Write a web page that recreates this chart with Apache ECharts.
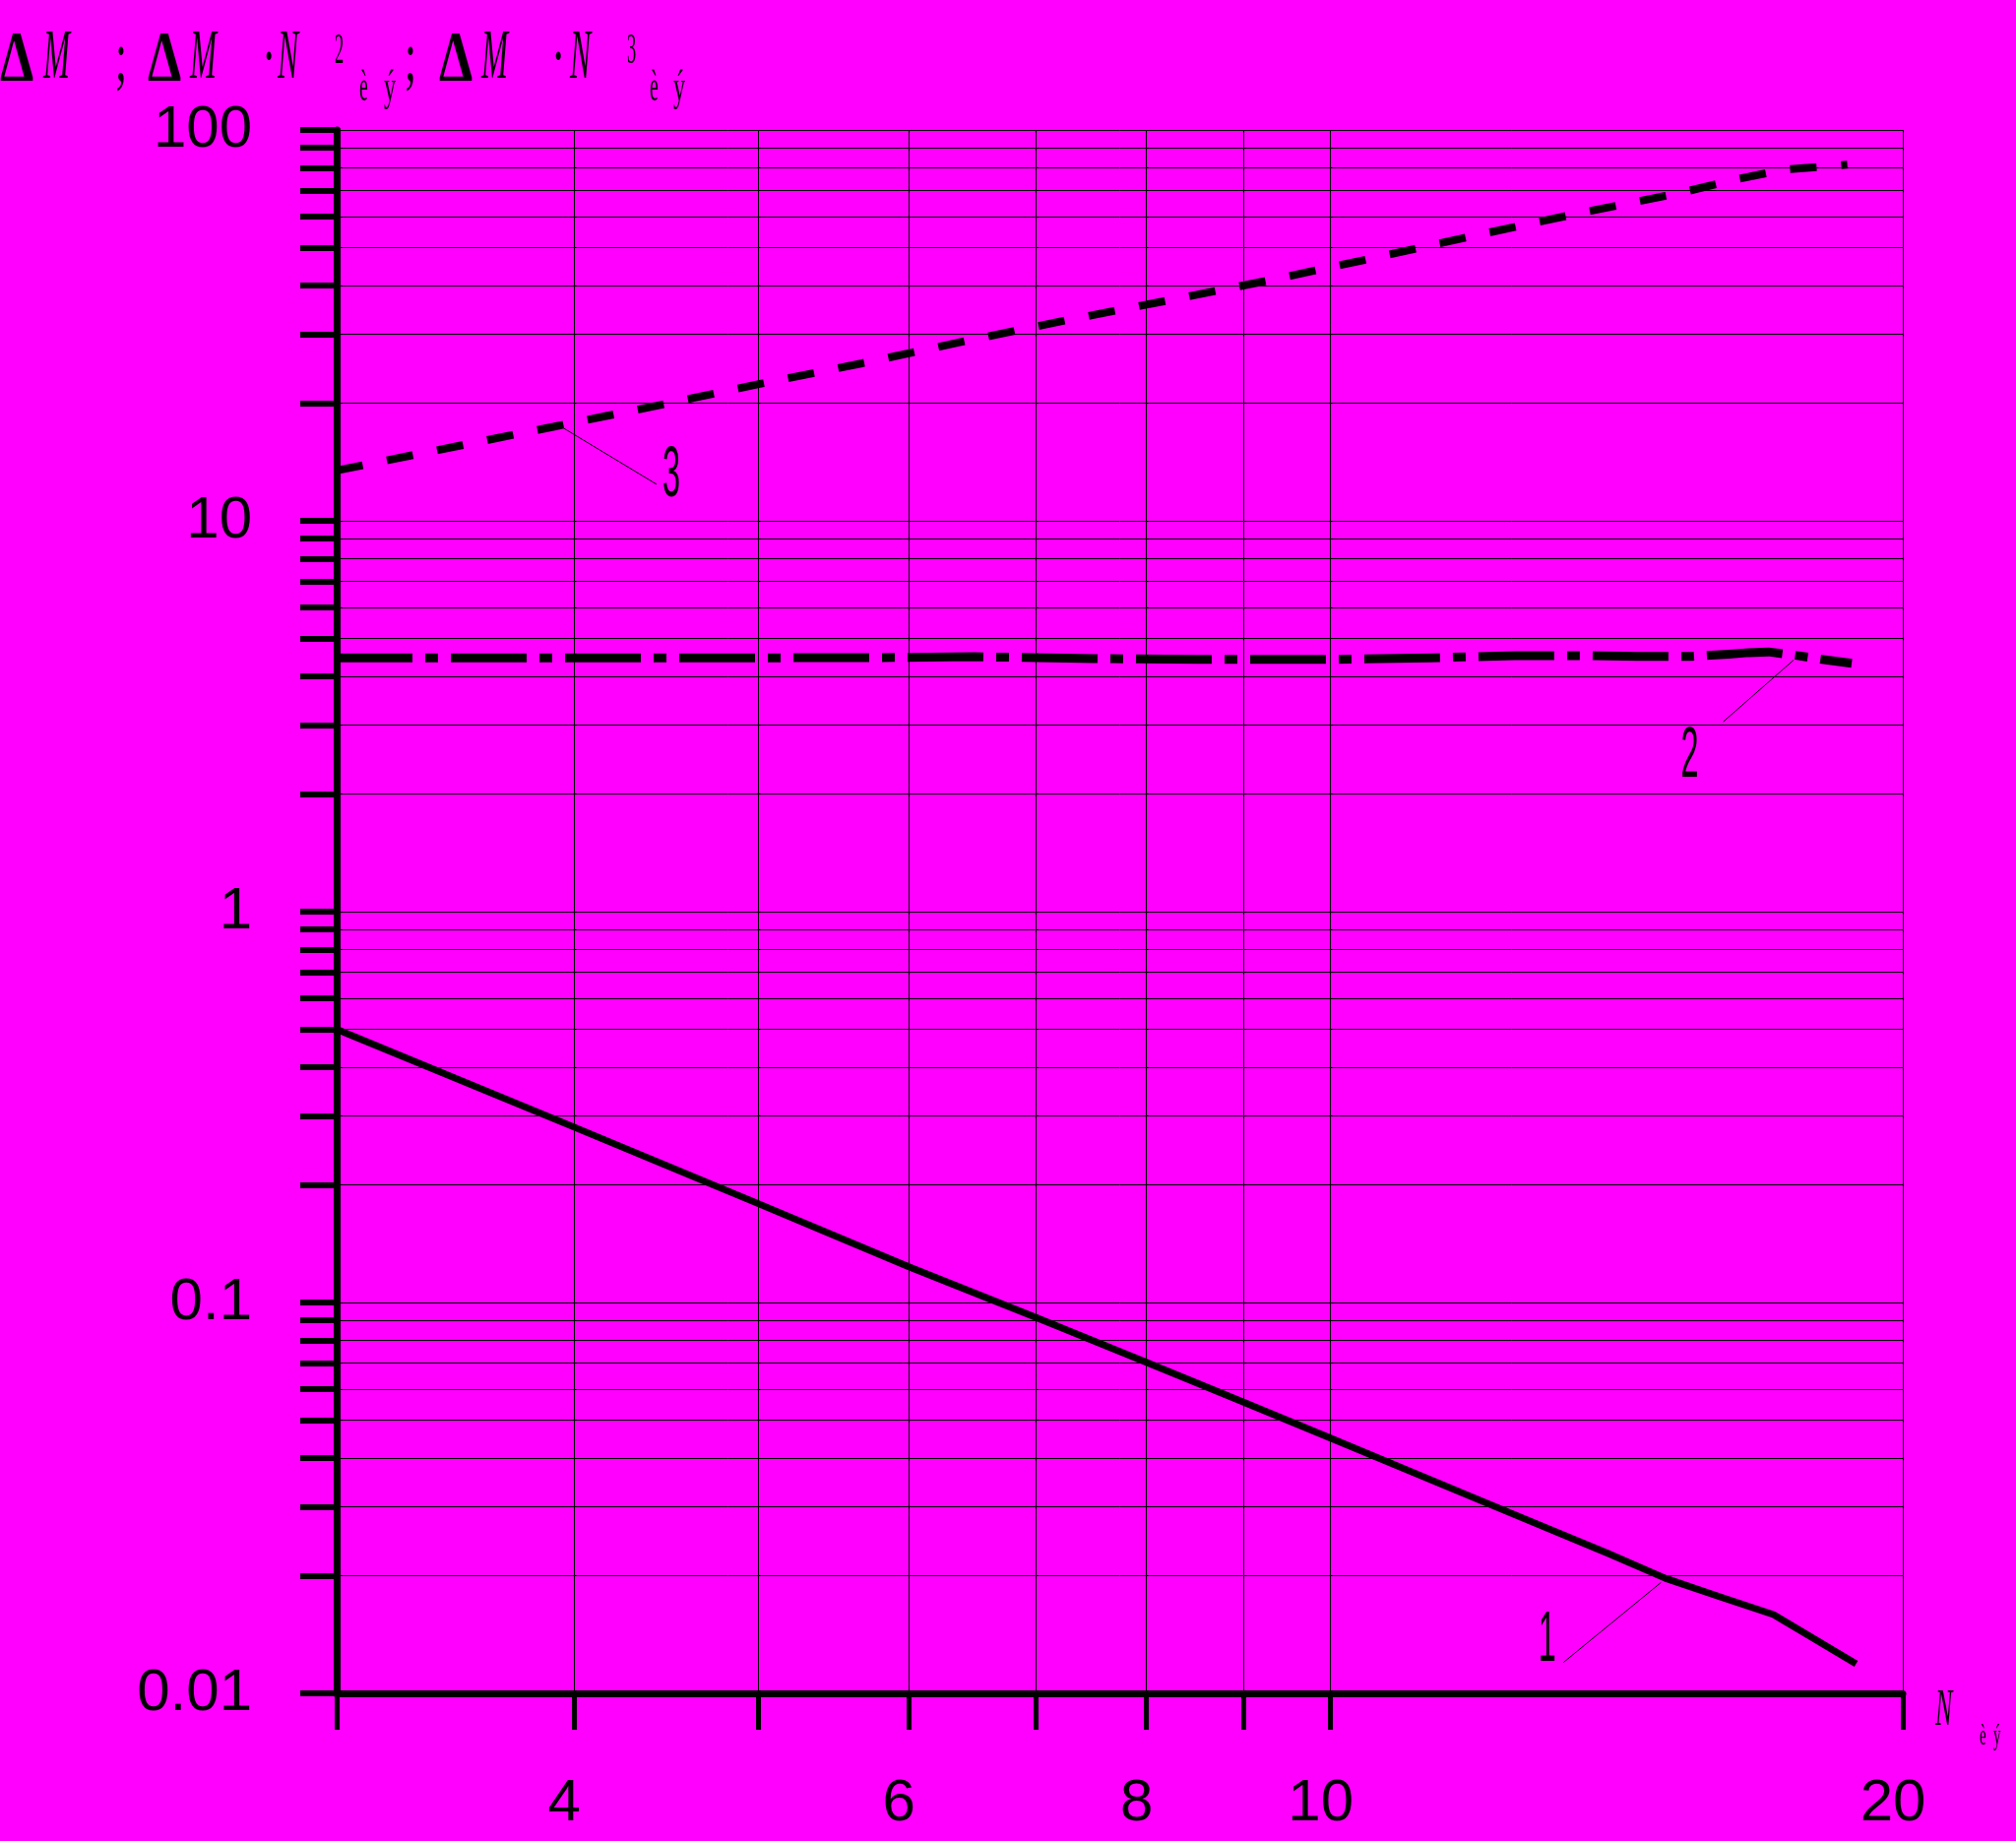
<!DOCTYPE html>
<html>
<head>
<meta charset="utf-8">
<script src="https://cdn.jsdelivr.net/npm/echarts@6/dist/echarts.min.js"></script>
<style>
html,body{margin:0;padding:0;background:#ff00ff;}
#chart{width:2048px;height:1870px;}
</style>
</head>
<body>
<div id="chart"></div>
<script>
// ---- axis ticks / labels ----
const xTickValues = [3, 4, 5, 6, 7, 8, 9, 10, 20];
const xLabelValues = [4, 6, 8, 10, 20];
const xLabelTexts = ['4', '6', '8', '10', '20'];

const yTickValues = [
  0.01, 0.02, 0.03, 0.04, 0.05, 0.06, 0.07, 0.08, 0.09,
  0.1, 0.2, 0.3, 0.4, 0.5, 0.6, 0.7, 0.8, 0.9,
  1, 2, 3, 4, 5, 6, 7, 8, 9,
  10, 20, 30, 40, 50, 60, 70, 80, 90, 100
];
const yLabelValues = [0.01, 0.1, 1, 10, 100];
const yLabelTexts = ['0.01', '0.1', '1', '10', '100'];

// ---- curve 1 : ΔM (solid) ----
const curve1X = [3, 4, 5, 6, 7, 8, 9, 10, 12, 14, 15, 16, 17.1, 18.9];
const curve1Y = [0.5, 0.281, 0.179, 0.1234, 0.0915, 0.0703, 0.0556, 0.045, 0.0311, 0.0228, 0.0197, 0.0177, 0.0159, 0.0119];

// ---- curve 2 : ΔM·N² (dash-dot) ----
const curve2X = [3, 4, 5, 6, 6.5, 7.5, 8.5, 10, 11.3, 12.5, 13.5, 14.5, 15.5, 16.2, 16.6, 17.0, 17.6, 18.25, 18.8];
const curve2Y = [4.46, 4.46, 4.46, 4.47, 4.49, 4.44, 4.42, 4.42, 4.46, 4.52, 4.52, 4.50, 4.50, 4.56, 4.60, 4.62, 4.52, 4.40, 4.32];

// ---- curve 3 : ΔM·N³ (dashed) ----
const curve3X = [3, 3.9, 4.42, 5.01, 5.67, 6.42, 7.26, 8.23, 9.32, 10.55, 11.93, 13.51, 15.29, 16.25, 17.3, 18.7];
const curve3Y = [13.45, 17.4, 19.7, 22.4, 25.3, 28.8, 32.6, 36.7, 41.4, 47.1, 53.8, 61.2, 69.1, 74.3, 79.1, 81.5];

// ---- curve callouts ----
const annoLabels = ['1', '2', '3'];
const annoFrom = [[14.92, 0.0192], [17.52, 4.40], [3.95, 17.25]];
const annoTo = [[13.26, 0.0120], [16.09, 3.06], [4.42, 12.4]];
const annoText = [[13.0, 0.0136], [15.45, 2.49], [4.50, 12.98]];

const pairs = (xs, ys) => xs.map((x, i) => [x, ys[i]]);
const near = (a, b) => Math.abs(Math.log10(a) - Math.log10(b)) < 1e-6;

const labelFont = "'Liberation Sans', 'Arimo', sans-serif";
const serif = "'Liberation Serif', 'DejaVu Serif', serif";

function t(text, x, y, size, sx, italic, bold) {
  return {
    type: 'text', x: x, y: y, scaleX: sx,
    style: {
      text: text,
      font: (italic ? 'italic ' : '') + (bold ? 'bold ' : '') + size + 'px ' + serif,
      fill: '#000', align: 'left', verticalAlign: 'middle'
    }
  };
}

const chart = echarts.init(document.getElementById('chart'), null, {renderer: 'canvas'});
chart.setOption({
  backgroundColor: '#ff00ff',
  animation: false,
  grid: {left: 342, right: 115, top: 132, bottom: 150, containLabel: false},
  xAxis: {
    type: 'log', logBase: 10, min: 3, max: 20,
    axisLine: {show: true, onZero: false, lineStyle: {color: '#000', width: 7}},
    axisTick: {show: true, inside: false, length: 37, customValues: xTickValues,
      lineStyle: {color: '#000', width: 5}},
    axisLabel: {
      show: true, customValues: xLabelValues, margin: 82,
      fontFamily: labelFont, fontSize: 60, color: '#000',
      padding: [0, 20, 0, 0],
      formatter: v => { const i = xLabelValues.findIndex(u => near(u, v)); return i >= 0 ? xLabelTexts[i] : ''; }
    },
    splitLine: {show: true, lineStyle: {color: '#000', width: 1}},
    minorTick: {show: false}, minorSplitLine: {show: false}
  },
  yAxis: {
    type: 'log', logBase: 10, min: 0.01, max: 100,
    axisLine: {show: true, onZero: false, lineStyle: {color: '#000', width: 7}},
    axisTick: {show: true, inside: false, length: 37, customValues: yTickValues,
      lineStyle: {color: '#000', width: 6}},
    axisLabel: {
      show: true, customValues: yLabelValues, margin: 86,
      fontFamily: labelFont, fontSize: 60, color: '#000',
      formatter: v => { const i = yLabelValues.findIndex(u => near(u, v)); return i >= 0 ? yLabelTexts[i] : ''; }
    },
    splitLine: {show: true, lineStyle: {color: '#000', width: 1}},
    minorTick: {show: false}, minorSplitLine: {show: false}
  },
  series: [
    {
      name: 'ΔM', type: 'line', data: pairs(curve1X, curve1Y), symbol: 'none', z: 5,
      lineStyle: {color: '#000', width: 7, type: 'solid', join: 'round'}
    },
    {
      name: 'ΔM·N²', type: 'line', data: pairs(curve2X, curve2Y), symbol: 'none', z: 5,
      lineStyle: {color: '#000', width: 9, type: [77, 13, 13, 13], cap: 'butt', join: 'miter'}
    },
    {
      name: 'ΔM·N³', type: 'line', data: pairs(curve3X, curve3Y), symbol: 'none', z: 5,
      lineStyle: {color: '#000', width: 8, type: [27, 25], cap: 'butt'}
    },
    {
      type: 'custom', coordinateSystem: 'cartesian2d', clip: false, silent: true, z: 6,
      encode: {x: [0, 2, 4], y: [1, 3, 5]},
      data: annoLabels.map((l, i) => [annoFrom[i][0], annoFrom[i][1], annoTo[i][0], annoTo[i][1], annoText[i][0], annoText[i][1]]),
      renderItem: function (params, api) {
        const p1 = api.coord([api.value(0), api.value(1)]);
        const p2 = api.coord([api.value(2), api.value(3)]);
        const pt = api.coord([api.value(4), api.value(5)]);
        return {
          type: 'group',
          children: [
            {type: 'line', shape: {x1: p1[0], y1: p1[1], x2: p2[0], y2: p2[1]},
              style: {stroke: '#000', lineWidth: 1}},
            {type: 'text', x: pt[0], y: pt[1], scaleX: 0.45,
              style: {text: annoLabels[params.dataIndex], font: "72px 'Liberation Sans', sans-serif",
                fill: '#000', align: 'center', verticalAlign: 'middle'}}
          ]
        };
      }
    }
  ],
  graphic: [
    // y-axis title: ΔM ; ΔM·N²èý; ΔM·N³èý
    t('Δ', 0, 62, 72, 0.76, false, true),
    t('M', 44, 60, 72, 0.45, true),
    t(';', 117, 62, 72, 0.6, false),
    t('Δ', 150, 62, 72, 0.76, false, true),
    t('M', 193, 60, 72, 0.45, true),
    t('·', 266, 62, 72, 0.6, false),
    t('N', 282, 60, 72, 0.44, true),
    t('2', 340, 52, 44, 0.42, false),
    t('è', 365, 90, 44, 0.45, false),
    t('ý', 390, 90, 44, 0.55, false),
    t(';', 411, 62, 72, 0.6, false),
    t('Δ', 446, 62, 72, 0.76, false, true),
    t('M', 489, 60, 72, 0.45, true),
    t('·', 560, 62, 72, 0.6, false),
    t('N', 579, 60, 72, 0.44, true),
    t('3', 637, 52, 44, 0.42, false),
    t('è', 660, 90, 44, 0.45, false),
    t('ý', 684, 90, 44, 0.55, false),
    // x-axis name: N èý
    t('N', 1966, 1738, 52, 0.5, true),
    t('è', 2011, 1764, 30, 0.5, false),
    t('ý', 2025, 1764, 30, 0.5, false)
  ]
});
</script>
</body>
</html>
